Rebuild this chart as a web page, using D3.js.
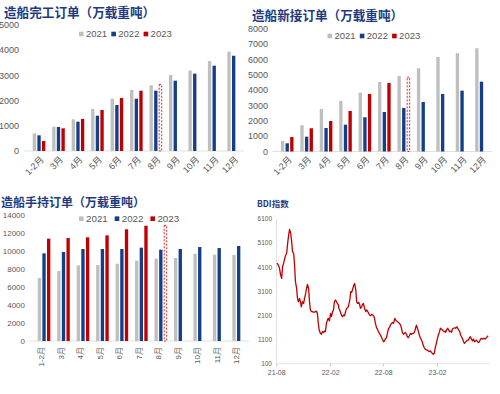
<!DOCTYPE html>
<html><head><meta charset="utf-8">
<script src="https://cdn.jsdelivr.net/npm/d3@7"></script>
<style>body{margin:0;background:#fff}svg{display:block}</style>
</head><body>
<svg id="c" width="500" height="394"></svg>
<script>
// ---------- data ----------
const categories = ["1-2月","3月","4月","5月","6月","7月","8月","9月","10月","11月","12月"];
const years = ["2021","2022","2023"];

const completed2021 = [700,965,1257,1667,2075,2420,2607,3015,3190,3570,3940];
const completed2022 = [623,952,1163,1400,1825,2075,2393,2790,3070,3385,3780];
const completed2023 = [397,900,1270,1627,2103,2393];
const completed2023Est = 2645;

const orders2021 = [690,1712,2778,3300,3843,4542,4935,5438,6176,6418,6745];
const orders2022 = [535,967,1536,1752,2235,2582,2843,3235,3758,3974,4562];
const orders2023 = [948,1516,1993,2647,3758,4477];
const orders2023Est = 4850;

const hold2021 = [7000,7780,8410,8440,8590,8920,9150,9220,9700,9590,9560];
const hold2022 = [9740,9890,10220,10220,10220,10370,10150,10220,10440,10330,10560];
const hold2023 = [11370,11440,11520,11740,12410,12810];
const hold2023Est = 12850;

const estCategory = "8月";

const bdiMonths = ["2021-08","2021-09","2021-10","2021-11","2021-12","2022-01","2022-02","2022-03",
  "2022-04","2022-05","2022-06","2022-07","2022-08","2022-09","2022-10","2022-11","2022-12",
  "2023-01","2023-02","2023-03","2023-04","2023-05","2023-06","2023-07"];
const bdiSampleDays = [1,4,8,11,14,18,21,24,28];
const bdiValues = [
  [4260,4240,4150,4020,3800,3640,4120,4230,4450],
  [4610,4680,5160,5440,5670,5500,5160,4750,4680],
  [4190,3500,3220,2810,2670,2810,2670,2460,2670],
  [2600,2810,3020,3220,3390,3220,2670,2330,2260],
  [2260,2240,2240,2260,2280,2190,1770,1500,1360],
  [1320,1430,1400,1450,1430,1770,1910,1980,1870],
  [2190,2050,2260,2330,2670,2740,2670,2600,2530],
  [2400,2330,2190,2090,2050,2120,2090,2260,2400],
  [2420,2530,2780,3090,3060,3220,3340,3430,3160],
  [2670,2600,2640,2560,2400,2460,2560,2600,2400],
  [2260,2330,2260,2190,2120,2090,2150,2120,2090],
  [1980,1770,1590,1540,1430,1360,1290,1220,1110],
  [1010,1040,1150,1180,1360,1570,1590,1700,1770],
  [1810,1770,1980,1910,1870,1840,1810,1770,1700],
  [1570,1400,1320,1360,1400,1320,1220,1180,1260],
  [1360,1320,1360,1360,1400,1570,1700,1590,1430],
  [1290,1180,1080,1010,870,760,710,670,670],
  [630,600,630,570,530,490,530,740,940],
  [1150,1290,1430,1570,1540,1500,1450,1430,1450],
  [1400,1500,1570,1500,1430,1450,1400,1540,1570],
  [1590,1570,1630,1570,1500,1430,1290,1220,1120],
  [1010,940,1010,1040,1080,1080,1180,1220,1120],
  [1040,1120,1010,1040,1080,1010,980,1010,1120],
  [1150,1120,1150,1150,1120,1180,1220,1260]
];
const bdiTicks = ["2021-08-01","2022-02-01","2022-08-01","2023-02-01"];
const bdiYTicks = [100,1100,2100,3100,4100,5100,6100];

// ---------- style ----------
const colors = {"2021":"#BFBFBF","2022":"#123E8A","2023":"#C00000"};
const titleColor = "#1F3A80";
const textColor = "#595959";
const latin = "'Liberation Sans', Arial, 'Noto Sans CJK SC', sans-serif";
const cjk = "'Noto Sans CJK SC', sans-serif";

const svg = d3.select("#c");

function barPanel(o){
  const g = svg.append("g");
  const x = d3.scaleBand().domain(categories).range(o.xr).padding(0);
  const y = d3.scaleLinear().domain([0,o.max]).range(o.yr);
  const sub = d3.scaleBand().domain(years).range([-6.3,6.3]).paddingInner(0.28);
  // title
  g.append("text").attr("x",o.title[1]).attr("y",o.title[2]).text(o.title[0])
    .attr("font-family",cjk).attr("font-weight",700).attr("font-size",o.title[3])
    .attr("fill",titleColor);
  // y labels
  g.append("g").selectAll("text").data(d3.range(0,o.max+1,o.step)).join("text")
    .attr("x",o.ylx).attr("y",d=>y(d)).attr("dy","0.35em").attr("text-anchor","end")
    .attr("font-family",latin).attr("font-size",o.yfs).attr("fill",textColor).text(d=>d);
  // baseline
  g.append("line").attr("x1",o.xr[0]-5).attr("x2",o.xr[1]+1).attr("y1",y(0)).attr("y2",y(0))
    .attr("stroke","#D9D9D9").attr("stroke-width",0.8);
  // bars
  const series = [[years[0],o.d21],[years[1],o.d22],[years[2],o.d23]];
  series.forEach(([yr,vals])=>{
    g.append("g").selectAll("rect").data(vals).join("rect")
      .attr("x",(d,i)=>x(categories[i])+x.bandwidth()/2+sub(yr))
      .attr("width",sub.bandwidth())
      .attr("y",d=>y(d)).attr("height",d=>y(0)-y(d)).attr("fill",colors[yr]);
  });
  // projected bar
  g.append("rect")
    .attr("x",x(estCategory)+x.bandwidth()/2+sub("2023")+0.4)
    .attr("width",sub.bandwidth()-0.8)
    .attr("y",y(o.est)).attr("height",y(0)-y(o.est))
    .attr("fill","#FDF3F3").attr("stroke",colors["2023"]).attr("stroke-width",0.8)
    .attr("stroke-dasharray","2,1.5");
  // x labels
  g.append("g").selectAll("text").data(categories).join("text")
    .attr("transform",d=>`translate(${x(d)+x.bandwidth()/2+o.xlo[0]},${o.xlo[1]}) rotate(${o.rot})`)
    .attr("text-anchor","end").attr("dy","0.35em")
    .attr("font-family",latin).attr("font-size",o.xfs).attr("fill",textColor).text(d=>d);
  // legend
  const lg = g.append("g");
  years.forEach((yr,i)=>{
    lg.append("rect").attr("x",o.leg[0]+i*o.leg[2]).attr("y",o.leg[1]-2.3).attr("width",4.6).attr("height",4.6)
      .attr("fill",colors[yr]);
    lg.append("text").attr("x",o.leg[0]+i*o.leg[2]+7).attr("y",o.leg[1]).attr("dy","0.35em")
      .attr("font-family",latin).attr("font-size",o.lfs).attr("fill",textColor).text(yr);
  });
}

barPanel({xr:[29.3,243.4], yr:[151,25], max:5000, step:1000, ylx:19, yfs:9,
  d21:completed2021, d22:completed2022, d23:completed2023, est:completed2023Est,
  title:["造船完工订单（万载重吨）",4,17,12.6], xlo:[3,158], rot:-45, xfs:9,
  leg:[79,34,32.3], lfs:9.5});
barPanel({xr:[277.5,491.2], yr:[151.5,29], max:8000, step:1000, ylx:268, yfs:9,
  d21:orders2021, d22:orders2022, d23:orders2023, est:orders2023Est,
  title:["造船新接订单（万载重吨）",252,19.5,12.6], xlo:[3,158], rot:-45, xfs:9,
  leg:[327.5,36,32.3], lfs:9.5});
barPanel({xr:[34.3,248.4], yr:[341,215], max:14000, step:2000, ylx:25, yfs:8,
  d21:hold2021, d22:hold2022, d23:hold2023, est:hold2023Est,
  title:["造船手持订单（万载重吨）",1,206.5,12], xlo:[-2.5,347], rot:-90, xfs:8,
  leg:[79,218.7,35.7], lfs:9.8});

// ---------- BDI ----------
(function(){
  const g = svg.append("g");
  const parse = d3.timeParse("%Y-%m-%d");
  const pts = [];
  bdiMonths.forEach((m,i)=>{
    bdiValues[i].forEach((v,j)=>pts.push({date:parse(m+"-"+String(bdiSampleDays[j]).padStart(2,"0")),value:v}));
  });
  const x = d3.scaleTime().domain([parse("2021-08-01"),parse("2023-08-01")]).range([276.7,490.5]);
  const y = d3.scaleLinear().domain([100,6100]).range([363.7,219]);
  g.append("text").attr("x",257).attr("y",206.5).text("BDI指数")
    .attr("font-family",cjk).attr("font-weight",700).attr("font-size",8.5).attr("fill",titleColor);
  g.append("line").attr("x1",276.5).attr("x2",276.5).attr("y1",219).attr("y2",363.7)
    .attr("stroke","#D9D9D9").attr("stroke-width",0.8);
  g.append("line").attr("x1",276.5).attr("x2",490).attr("y1",363.7).attr("y2",363.7)
    .attr("stroke","#D9D9D9").attr("stroke-width",0.8);
  g.append("g").selectAll("text").data(bdiYTicks).join("text")
    .attr("x",272).attr("y",d=>y(d)).attr("dy","0.35em").attr("text-anchor","end")
    .attr("font-family",latin).attr("font-size",6.5).attr("fill",textColor).text(d=>d);
  const fmt = d3.timeFormat("%y-%m");
  const tks = bdiTicks.map(parse);
  g.append("g").selectAll("line").data(tks).join("line")
    .attr("x1",d=>x(d)).attr("x2",d=>x(d)).attr("y1",363.7).attr("y2",366.5)
    .attr("stroke","#BFBFBF").attr("stroke-width",0.8);
  g.append("g").selectAll("text").data(tks).join("text")
    .attr("x",d=>x(d)).attr("y",373).attr("dy","0.35em").attr("text-anchor","middle")
    .attr("font-family",latin).attr("font-size",7).attr("fill",textColor).text(d=>fmt(d));
  g.append("path").datum(pts)
    .attr("d",d3.line().x(d=>x(d.date)).y(d=>y(d.value)))
    .attr("fill","none").attr("stroke","#C00000").attr("stroke-width",1.3).attr("stroke-linejoin","round");
})();
</script>
</body></html>
